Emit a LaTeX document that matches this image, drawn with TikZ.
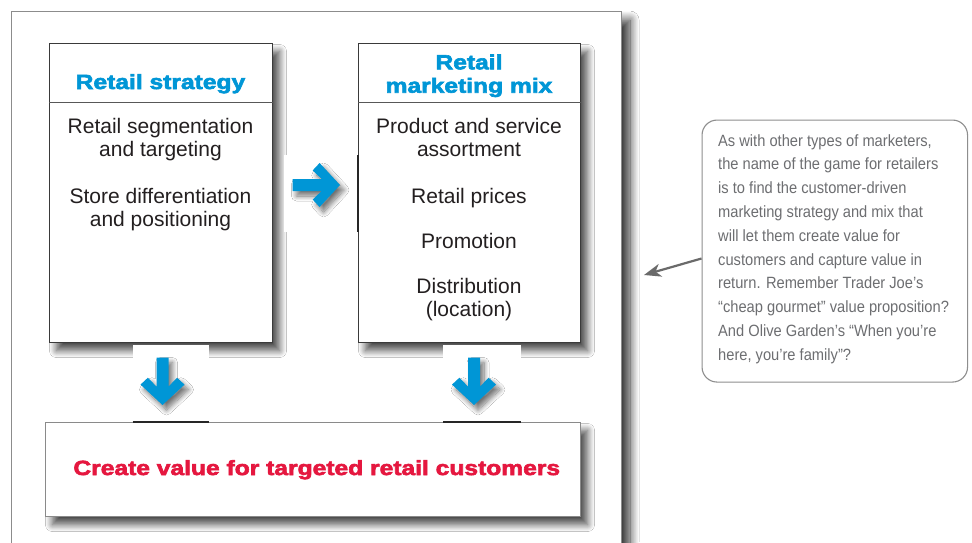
\documentclass[tikz,border=0pt]{standalone}
\usepackage{fontspec}
\setmainfont{Liberation Sans}
\newfontfamily\hdrfont{Liberation Sans Bold}[FakeStretch=1.2, FakeBold=3]
\newfontfamily\notefont{Liberation Sans}[FakeStretch=0.9]
\usetikzlibrary{shadows.blur,arrows.meta}
\definecolor{hblue}{HTML}{0096D6}
\definecolor{hred}{HTML}{E5173F}
\definecolor{bodytxt}{HTML}{231F20}
\definecolor{notetxt}{HTML}{6D6E71}
\definecolor{framegray}{HTML}{8C8C8C}
\definecolor{boxline}{HTML}{3A3A3A}
\definecolor{cvline}{HTML}{8A8A8A}
\definecolor{noteline}{HTML}{8E8E8E}
\definecolor{pointer}{HTML}{6A6A6A}
\tikzset{
  myshadow/.style={blur shadow={shadow xshift=7pt, shadow yshift=-8pt, shadow blur radius=7pt, shadow blur steps=12, shadow opacity=70}},
  framebox/.style={draw=framegray, line width=1.2pt, fill=white, inner sep=0pt,
    blur shadow={shadow xshift=9pt, shadow yshift=-9pt, shadow blur radius=9pt, shadow blur steps=14, shadow opacity=80}},
  box/.style={draw=boxline, line width=1pt, fill=white, inner sep=0pt, myshadow},
  cvbox/.style={draw=cvline, line width=1pt, fill=white, inner sep=0pt, myshadow},
  divider/.style={draw=boxline!85, line width=0.9pt},
  hdr/.style={font=\hdrfont\fontsize{20.5}{23.4}\selectfont, text=hblue, anchor=base, inner sep=0pt},
  body/.style={font=\fontsize{21}{23.4}\selectfont, text=bodytxt, anchor=base, inner sep=0pt},
  goal/.style={font=\hdrfont\fontsize{20.5}{23.4}\selectfont, text=hred, anchor=base, inner sep=0pt},
  note/.style={font=\notefont\fontsize{16.3}{23.8}\selectfont, text=notetxt, anchor=base west, inner sep=0pt},
  notebox/.style={draw=noteline, line width=1.1pt, rounded corners=15pt, fill=white, inner sep=0pt},
  arrowfill/.style={fill=hblue, blur shadow={shadow xshift=4pt, shadow yshift=-5pt, shadow blur radius=5pt, shadow blur steps=10, shadow opacity=55}},
  rarrow/.pic={\fill[arrowfill] (-47.5,-6) -- (-18.4,-6) -- (-27.3,-14.6) -- (-20.4,-22) -- (0,0)
      -- (-20.4,22) -- (-27.3,14.6) -- (-18.4,6) -- (-47.5,6) -- cycle;},
  darrow/.pic={\fill[arrowfill] (-6,-47.5) -- (-6,-18.4) -- (-14.6,-27.3) -- (-22,-20.4) -- (0,0)
      -- (22,-20.4) -- (14.6,-27.3) -- (6,-18.4) -- (6,-47.5) -- cycle;},
  darkseg/.style={draw=black!85, line width=1.8pt}
}
\begin{document}
\begin{tikzpicture}[x=1pt,y=-1pt]
\useasboundingbox (0,0) rectangle (972,542);
\fill[white] (0,0) rectangle (972,542);
% outer frame
\node[framebox, anchor=north west, minimum width=609.5pt, minimum height=600pt] (frame) at (11,10.5) {};
% boxes
\node[box, anchor=north west, minimum width=223pt, minimum height=299pt] (rs) at (49,43) {};
\node[box, anchor=north west, minimum width=222pt, minimum height=299pt] (mm) at (358,43) {};
\node[cvbox, anchor=north west, minimum width=535pt, minimum height=94pt] (cv) at (45,422) {};
% white arrow backgrounds
\fill[white] (284,155) rectangle (356.5,232);
\fill[white] (132.5,345) rectangle (209,421);
\fill[white] (443,345) rectangle (521,421);
% dividers
\draw[divider] ([yshift=-59pt]rs.north west) -- ([yshift=-59pt]rs.north east);
\draw[divider] ([yshift=-59pt]mm.north west) -- ([yshift=-59pt]mm.north east);
% dark segments
\draw[darkseg] (mm.west |- 0,155) -- (mm.west |- 0,232);
\draw[darkseg] (132.5,422) -- (209,422);
\draw[darkseg] (443,422) -- (521,422);
% headers
\node[hdr] (h1) at (160.5,89) {Retail strategy};
\node[hdr] (h2a) at (469,69.3) {Retail};
\node[hdr] (h2b) at (469,92.7) {marketing mix};
% left body
\node[body] (l1) at (160.5,133.5) {Retail segmentation};
\node[body] (l2) at (160.5,156.9) {and targeting};
\node[body] (l3) at (160.5,203.3) {Store differentiation};
\node[body] (l4) at (160.5,226.7) {and positioning};
% right body
\node[body] (r1) at (469,133.5) {Product and service};
\node[body] (r2) at (469,156.9) {assortment};
\node[body] (r3) at (469,203.3) {Retail prices};
\node[body] (r4) at (469,248) {Promotion};
\node[body] (r5) at (469,293) {Distribution};
\node[body] (r6) at (469,316.4) {(location)};
% goal
\node[goal] (g) at (316.8,475) {Create value for targeted retail customers};
% blue arrows
\coordinate (rtip) at (340,185);
\coordinate (dtip1) at (162.5,405);
\coordinate (dtip2) at (474,405);
\pic at (rtip) {rarrow};
\pic at (dtip1) {darrow};
\pic at (dtip2) {darrow};
% callout
\node[notebox, anchor=north west, minimum width=265.5pt, minimum height=262pt] (callout) at (701.5,119.5) {};
\node[note] (n1) at (718,146) {As with other types of marketers,};
\node[note] (n2) at (718,169.8) {the name of the game for retailers};
\node[note] (n3) at (718,193.6) {is to find the customer-driven};
\node[note] (n4) at (718,217.4) {marketing strategy and mix that};
\node[note] (n5) at (718,241.2) {will let them create value for};
\node[note] (n6) at (718,265) {customers and capture value in};
\node[note] (n7) at (718,288.8) {return. Remember Trader Joe’s};
\node[note] (n8) at (718,312.6) {“cheap gourmet” value proposition?};
\node[note] (n9) at (718,336.4) {And Olive Garden’s “When you’re};
\node[note] (n10) at (718,360.2) {here, you’re family”?};
\coordinate (pstart) at (callout.west |- 0,258.5);
\coordinate (ptip) at (644,275);
\draw[draw=pointer, line width=2.2pt, -{Stealth[length=17pt,width=13pt,inset=5pt]}] (pstart) -- (ptip);
\end{tikzpicture}
\end{document}
